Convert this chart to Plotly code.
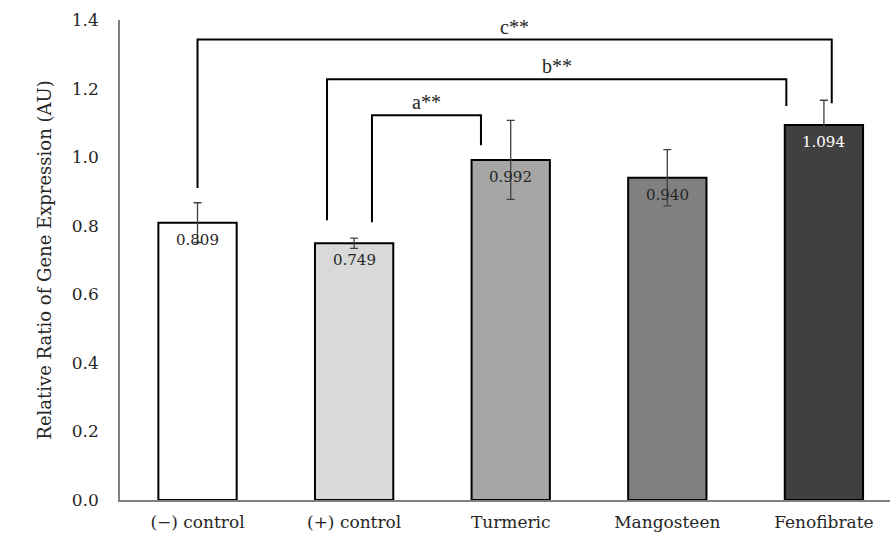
import plotly.graph_objects as go

categories = ["(\u2212) control", "(+) control", "Turmeric", "Mangosteen", "Fenofibrate"]
values = [0.809, 0.749, 0.992, 0.940, 1.094]
errors = [0.058, 0.015, 0.115, 0.082, 0.072]
value_labels = ["0.809", "0.749", "0.992", "0.940", "1.094"]
bar_colors = ["#ffffff", "#d9d9d9", "#a6a6a6", "#808080", "#404040"]
label_colors = ["#262626", "#262626", "#262626", "#262626", "#ffffff"]

y_ticks = [0.0, 0.2, 0.4, 0.6, 0.8, 1.0, 1.2, 1.4]
y_ticktext = ["0.0", "0.2", "0.4", "0.6", "0.8", "1.0", "1.2", "1.4"]

# significance brackets
bracket_labels = ["a**", "b**", "c**"]
bracket_x0 = [1.114, 0.827, 0.0]
bracket_x1 = [1.81, 3.76, 4.05]
bracket_top = [1.122, 1.227, 1.343]
bracket_left_end = [0.810, 0.816, 0.910]
bracket_right_end = [1.035, 1.149, 1.157]

SERIF = "DejaVu Serif"
xpos = list(range(len(categories)))

fig = go.Figure()
fig.add_trace(go.Bar(
    x=xpos, y=values, width=0.5,
    marker=dict(color=bar_colors, line=dict(color="#000000", width=2)),
    error_y=dict(type="data", array=errors, visible=True,
                 color="#404040", thickness=1.3, width=4),
    hoverinfo="skip", showlegend=False,
))

for i in range(len(bracket_labels)):
    fig.add_trace(go.Scatter(
        x=[bracket_x0[i], bracket_x0[i], bracket_x1[i], bracket_x1[i]],
        y=[bracket_left_end[i], bracket_top[i], bracket_top[i], bracket_right_end[i]],
        mode="lines", line=dict(color="#000000", width=2),
        hoverinfo="skip", showlegend=False,
    ))
    fig.add_annotation(
        x=(bracket_x0[i] + bracket_x1[i]) / 2, y=bracket_top[i],
        text=bracket_labels[i], showarrow=False, yanchor="bottom", yshift=0,
        font=dict(family="Liberation Serif", size=20, color="#262626"),
    )

for i, v in enumerate(values):
    fig.add_annotation(
        x=xpos[i], y=v, text=value_labels[i], showarrow=False,
        yanchor="middle", yshift=-17,
        font=dict(family=SERIF, size=15, color=label_colors[i]),
    )

fig.update_layout(
    width=890, height=534,
    margin=dict(l=120, r=0, t=20, b=34),
    plot_bgcolor="#ffffff", paper_bgcolor="#ffffff",
    xaxis=dict(
        range=[-0.495, 4.422], tickmode="array", tickvals=xpos, ticktext=categories,
        showgrid=False, zeroline=False, showline=True, linecolor="#808080", linewidth=1.5,
        ticks="", ticklabelstandoff=6,
        tickfont=dict(family=SERIF, size=17, color="#262626"),
    ),
    yaxis=dict(
        range=[0, 1.4], tickmode="array", tickvals=y_ticks, ticktext=y_ticktext,
        showgrid=False, zeroline=False, showline=True, linecolor="#808080", linewidth=1.5,
        ticks="", ticklen=0, ticklabelstandoff=16,
        tickfont=dict(family=SERIF, size=17, color="#262626"),
        title=dict(text="Relative Ratio of Gene Expression (AU)",
                   font=dict(family=SERIF, size=18, color="#262626"), standoff=16),
    ),
)

fig.write_html("out.html", config={"displayModeBar": False},
               post_script="document.body.style.margin='0';")
